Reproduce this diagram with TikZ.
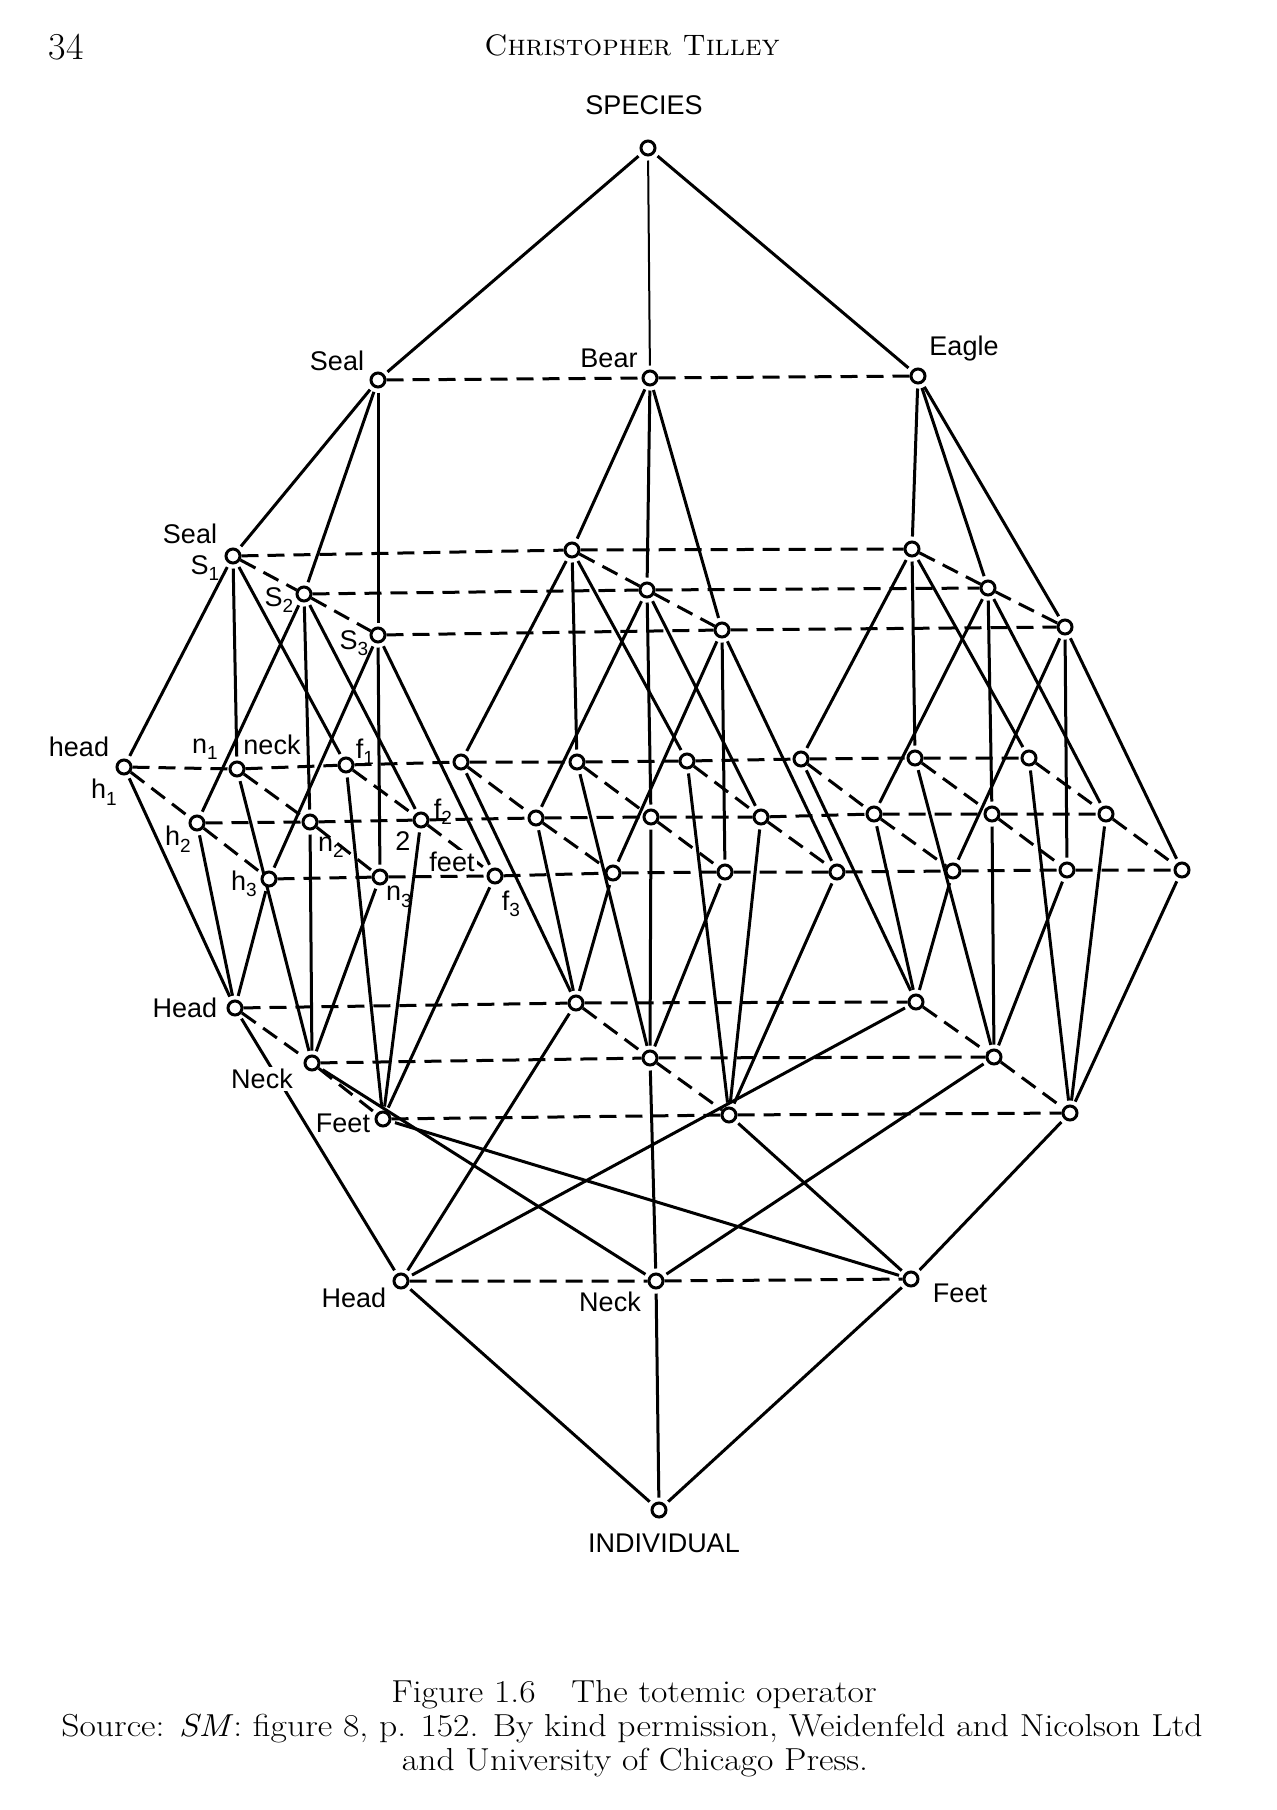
\documentclass[tikz,border=0pt]{standalone}
\usepackage{fontspec}
\setsansfont{Liberation Sans}
\usetikzlibrary{backgrounds}
\newcommand\mysub[1]{\raisebox{-0.45ex}{\fontsize{9.5}{10}\selectfont #1}}
\newcommand\capline[1]{\scalebox{1.12}[1]{#1}}
\begin{document}
\begin{tikzpicture}[x=0.5pt,y=-0.5pt,
  pt/.style={circle,draw,line width=1.5pt,fill=white,inner sep=0pt,minimum size=7pt},
  ln/.style={line width=1.5pt,shorten <=2pt,shorten >=2pt},
  dl/.style={line width=1.5pt,dash pattern=on 8.5pt off 4.5pt},
  lab/.style={font=\sffamily\fontsize{13.5}{14}\selectfont,inner sep=0.5pt},
  wlab/.style={lab,fill=white,inner sep=1pt},
  captxt/.style={font=\fontsize{15.9}{17}\selectfont,inner sep=0pt},
]
\useasboundingbox (0,0) rectangle (1276,1810);

% top
\node[pt] (sp) at (648,148) {};
\node[pt] (seal) at (378,380) {};
\node[pt] (bear) at (650,378) {};
\node[pt] (eagle) at (918,376) {};

% cluster nodes: name/x/y
\foreach \n/\x/\y in {
  sA1/233/556, sA2/304/594, sA3/378/635,
  hA1/124/767, nA1/237/769, fA1/346/765,
  hA2/197/823, nA2/310/822, fA2/421/820,
  hA3/269/879, nA3/380/877, fA3/495/876,
  HdA/235/1008, NkA/312/1063, FtA/383/1119,
  sB1/572/550, sB2/647/590, sB3/722/630,
  hB1/461/762, nB1/577/762, fB1/687/761,
  hB2/536/818, nB2/651/817, fB2/761/817,
  hB3/613/873, nB3/725/872, fB3/837/872,
  HdB/576/1003, NkB/650/1058, FtB/729/1115,
  sC1/912/549, sC2/988/588, sC3/1065/627,
  hC1/801/759, nC1/915/758, fC1/1029/758,
  hC2/874/814, nC2/992/814, fC2/1106/814,
  hC3/953/871, nC3/1067/870, fC3/1182/870,
  HdC/916/1002, NkC/994/1057, FtC/1070/1113,
  BH/401/1281, BN/656/1281, BF/911/1279, ind/659/1510}
  {\node[pt] (\n) at (\x,\y) {};}

\begin{scope}[on background layer]
  \draw[ln] (sp) -- (seal);
  \draw[ln,line width=1pt] (sp) -- (bear);
  \draw[ln] (sp) -- (eagle);
  \draw[dl] (seal) -- (bear) -- (eagle);
  \foreach \X/\T in {A/seal,B/bear,C/eagle}{
    \foreach \i in {1,2,3}{
      \draw[ln] (\T) -- (s\X\i);
      \draw[ln] (s\X\i) -- (h\X\i);
      \draw[ln] (s\X\i) -- (n\X\i);
      \draw[ln] (s\X\i) -- (f\X\i);
      \draw[ln] (h\X\i) -- (Hd\X);
      \draw[ln] (n\X\i) -- (Nk\X);
      \draw[ln] (f\X\i) -- (Ft\X);
    }
    \draw[ln] (Hd\X) -- (BH);
    \draw[ln] (Nk\X) -- (BN);
    \draw[ln] (Ft\X) -- (BF);
    \draw[dl] (s\X1) -- (s\X2) -- (s\X3);
    \draw[dl] (h\X1) -- (h\X2) -- (h\X3);
    \draw[dl] (n\X1) -- (n\X2) -- (n\X3);
    \draw[dl] (f\X1) -- (f\X2) -- (f\X3);
    \draw[dl] (Hd\X) -- (Nk\X) -- (Ft\X);
  }
  \foreach \i in {1,2,3}{
    \draw[dl] (sA\i) -- (sB\i) -- (sC\i);
    \draw[dl] (hA\i) -- (nA\i) -- (fA\i) -- (hB\i) -- (nB\i) -- (fB\i) -- (hC\i) -- (nC\i) -- (fC\i);
  }
  \draw[dl] (HdA) -- (HdB) -- (HdC);
  \draw[dl] (NkA) -- (NkB) -- (NkC);
  \draw[dl] (FtA) -- (FtB) -- (FtC);
  \draw[dl] (BH) -- (BN) -- (BF);
  \draw[ln] (BH) -- (ind);
  \draw[ln] (BN) -- (ind);
  \draw[ln] (BF) -- (ind);
\end{scope}

% labels
\node[lab] (tSpecies) at (644,105) {SPECIES};
\node[lab] (tSeal) at (337,361) {Seal};
\node[lab] (tBear) at (609,358) {Bear};
\node[lab] (tEagle) at (964,349) {Eagle};
\node[lab] (tSeal2) at (190,534) {Seal};
\node[lab] (tS1) at (205,568) {S\mysub{1}};
\node[lab] (tS2) at (279,600) {S\mysub{2}};
\node[lab] (tS3) at (354,643) {S\mysub{3}};
\node[lab] (thead) at (79,747) {head};
\node[lab] (th1) at (104,792) {h\mysub{1}};
\node[lab] (tn1) at (205,749) {n\mysub{1}};
\node[lab] (tneck) at (272,745) {neck};
\node[lab] (tf1) at (365,752) {f\mysub{1}};
\node[lab] (th2) at (178,839) {h\mysub{2}};
\node[lab] (tn2) at (331,847) {n\mysub{2}};
\node[lab] (ttwo) at (403,841) {2};
\node[lab] (tf2) at (443,812) {f\mysub{2}};
\node[wlab] (tfeet) at (452,862) {feet};
\node[lab] (th3) at (244,884) {h\mysub{3}};
\node[lab] (tn3) at (399,897) {n\mysub{3}};
\node[lab] (tf3) at (511,904) {f\mysub{3}};
\node[lab] (tHead) at (185,1008) {Head};
\node[wlab] (tNeck) at (262,1079) {Neck};
\node[lab] (tFeet) at (343,1123) {Feet};
\node[lab] (tBH) at (354,1298) {Head};
\node[lab] (tBN) at (610,1302) {Neck};
\node[lab] (tBF) at (960,1293) {Feet};
\node[lab] (tInd) at (664,1543) {INDIVIDUAL};

% header and caption
\node[font=\fontsize{19}{20}\selectfont,inner sep=0pt] (pg) at (66,47) {34};
\node[font=\fontsize{14.8}{16}\selectfont,inner sep=0pt] (hdr) at (632,45) {\textsc{Christopher Tilley}};
\node[captxt] (c1) at (634,1695) {\capline{Figure 1.6\quad The totemic operator}};
\node[captxt] (c2) at (632,1729) {\capline{Source: \textit{SM}: figure 8, p. 152. By kind permission, Weidenfeld and Nicolson Ltd}};
\node[captxt] (c3) at (635,1763) {\capline{and University of Chicago Press.}};
\end{tikzpicture}
\end{document}
